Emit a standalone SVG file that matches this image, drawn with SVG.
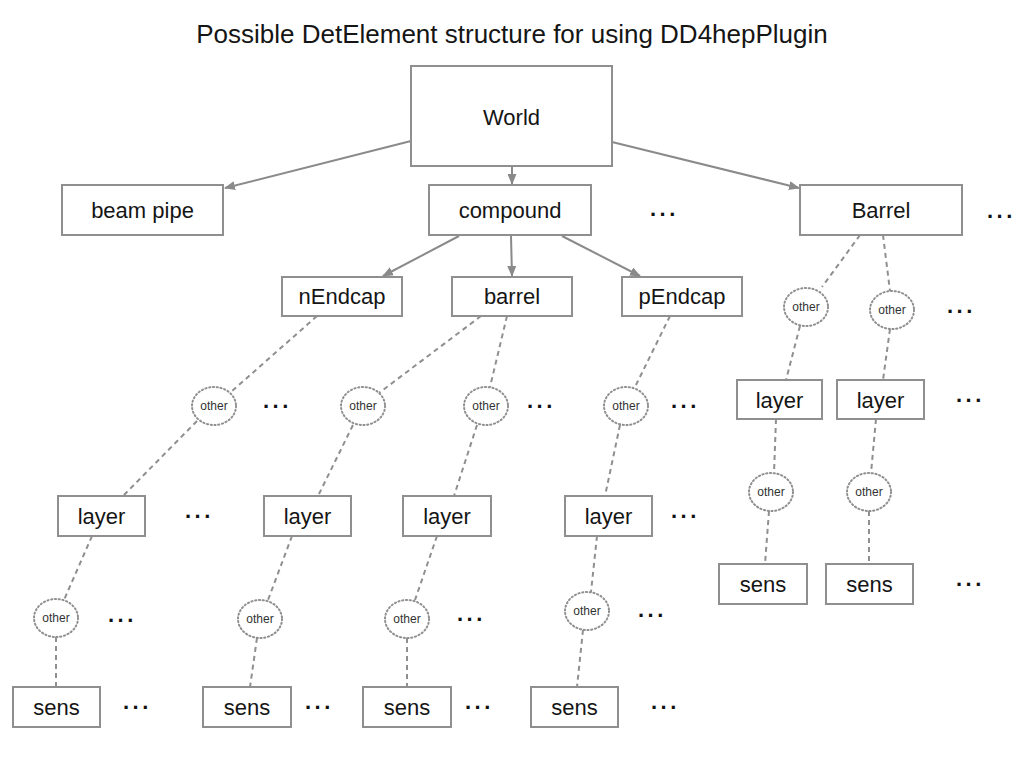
<svg xmlns="http://www.w3.org/2000/svg" width="1024" height="768" viewBox="0 0 1024 768">
<defs>
<style>
.box{fill:#fff;stroke:#8f8f8f;stroke-width:2}
.oth{fill:#fff;stroke:#8f8f8f;stroke-width:2;stroke-dasharray:1.2 2.6;stroke-linecap:round}
.t{font-family:"Liberation Sans",Arial,sans-serif;font-size:22px;fill:#151515;text-anchor:middle}
.o{font-family:"Liberation Sans",Arial,sans-serif;font-size:12px;fill:#333;text-anchor:middle}
.d{font-family:"Liberation Sans",Arial,sans-serif;font-size:22px;font-weight:bold;fill:#111;text-anchor:start;letter-spacing:3.5px}
.title{font-family:"Liberation Sans",Arial,sans-serif;font-size:26px;fill:#151515;text-anchor:middle}
.sol{stroke:#8a8a8a;stroke-width:2;fill:none;marker-end:url(#ah)}
.dash{stroke:#8f8f8f;stroke-width:2;fill:none;stroke-dasharray:5 4}
</style>
<marker id="ah" markerUnits="userSpaceOnUse" markerWidth="11" markerHeight="9" refX="10" refY="4.5" orient="auto">
<path d="M0,0 L11,4.5 L0,9 z" fill="#8a8a8a"/>
</marker>
</defs>
<rect width="1024" height="768" fill="#fff"/>
<text class="title" x="512" y="43">Possible DetElement structure for using DD4hepPlugin</text>

<g id="connectors">
<line class="sol" x1="411" y1="141" x2="225" y2="188"/>
<line class="sol" x1="512" y1="166" x2="512" y2="184"/>
<line class="sol" x1="612" y1="142" x2="799" y2="188"/>
<line class="sol" x1="459" y1="236" x2="383" y2="276"/>
<line class="sol" x1="511" y1="236" x2="512" y2="276"/>
<line class="sol" x1="562" y1="236" x2="640" y2="276"/>
<line class="dash" x1="317" y1="316" x2="231" y2="392"/>
<line class="dash" x1="197" y1="421" x2="123" y2="496"/>
<line class="dash" x1="92" y1="536" x2="64" y2="600"/>
<line class="dash" x1="56" y1="637" x2="56" y2="687"/>
<line class="dash" x1="481" y1="316" x2="379" y2="393"/>
<line class="dash" x1="507" y1="316" x2="490" y2="387"/>
<line class="dash" x1="353" y1="425" x2="318" y2="496"/>
<line class="dash" x1="477" y1="425" x2="454" y2="496"/>
<line class="dash" x1="292" y1="536" x2="268" y2="600"/>
<line class="dash" x1="257" y1="638" x2="250" y2="687"/>
<line class="dash" x1="437" y1="536" x2="415" y2="600"/>
<line class="dash" x1="407" y1="638" x2="407" y2="687"/>
<line class="dash" x1="670" y1="316" x2="635" y2="387"/>
<line class="dash" x1="620" y1="425" x2="605" y2="496"/>
<line class="dash" x1="597" y1="536" x2="591" y2="592"/>
<line class="dash" x1="583" y1="630" x2="577" y2="687"/>
<line class="dash" x1="860" y1="235" x2="822" y2="287"/>
<line class="dash" x1="883" y1="235" x2="890" y2="291"/>
<line class="dash" x1="800" y1="326" x2="786" y2="380"/>
<line class="dash" x1="890" y1="329" x2="883" y2="380"/>
<line class="dash" x1="776" y1="419" x2="774" y2="473"/>
<line class="dash" x1="769" y1="511" x2="765" y2="564"/>
<line class="dash" x1="876" y1="419" x2="871" y2="473"/>
<line class="dash" x1="869" y1="511" x2="869" y2="564"/>
</g>

<g id="world"><rect class="box" x="411" y="66" width="201" height="100"/><text class="t" x="511.5" y="125">World</text></g>
<g id="beampipe"><rect class="box" x="62" y="185" width="161" height="50"/><text class="t" x="142.5" y="218">beam pipe</text></g>
<g id="compound"><rect class="box" x="429" y="185" width="162" height="50"/><text class="t" x="510" y="218">compound</text></g>
<g id="Barrel"><rect class="box" x="800" y="185" width="162" height="50"/><text class="t" x="881" y="218">Barrel</text></g>
<g id="nEndcap"><rect class="box" x="282" y="277" width="120" height="39"/><text class="t" x="342" y="304">nEndcap</text></g>
<g id="barrel"><rect class="box" x="452" y="277" width="120" height="39"/><text class="t" x="512" y="304">barrel</text></g>
<g id="pEndcap"><rect class="box" x="622" y="277" width="120" height="39"/><text class="t" x="682" y="304">pEndcap</text></g>

<g id="layer1"><rect class="box" x="58" y="496" width="87" height="40"/><text class="t" x="101.5" y="524">layer</text></g>
<g id="layer2"><rect class="box" x="264" y="496" width="87" height="40"/><text class="t" x="307.5" y="524">layer</text></g>
<g id="layer3"><rect class="box" x="403" y="496" width="88" height="40"/><text class="t" x="447" y="524">layer</text></g>
<g id="layer4"><rect class="box" x="565" y="496" width="87" height="40"/><text class="t" x="608.5" y="524">layer</text></g>
<g id="layer5"><rect class="box" x="737" y="380" width="85" height="39"/><text class="t" x="779.5" y="408">layer</text></g>
<g id="layer6"><rect class="box" x="837" y="380" width="87" height="39"/><text class="t" x="880.5" y="408">layer</text></g>

<g id="sens1"><rect class="box" x="13" y="687" width="87" height="40"/><text class="t" x="56.5" y="715">sens</text></g>
<g id="sens2"><rect class="box" x="203" y="687" width="88" height="40"/><text class="t" x="247" y="715">sens</text></g>
<g id="sens3"><rect class="box" x="363" y="687" width="88" height="40"/><text class="t" x="407" y="715">sens</text></g>
<g id="sens4"><rect class="box" x="531" y="687" width="87" height="40"/><text class="t" x="574.5" y="715">sens</text></g>
<g id="sens5"><rect class="box" x="719" y="564" width="88" height="40"/><text class="t" x="763" y="592">sens</text></g>
<g id="sens6"><rect class="box" x="826" y="564" width="87" height="40"/><text class="t" x="869.5" y="592">sens</text></g>

<g id="other1"><ellipse class="oth" cx="214" cy="406" rx="22" ry="19"/><text class="o" x="214" y="410">other</text></g>
<g id="other2"><ellipse class="oth" cx="363" cy="406" rx="22" ry="19"/><text class="o" x="363" y="410">other</text></g>
<g id="other3"><ellipse class="oth" cx="486" cy="406" rx="22" ry="19"/><text class="o" x="486" y="410">other</text></g>
<g id="other4"><ellipse class="oth" cx="626" cy="406" rx="22" ry="19"/><text class="o" x="626" y="410">other</text></g>
<g id="other5"><ellipse class="oth" cx="806" cy="307" rx="22" ry="19"/><text class="o" x="806" y="311">other</text></g>
<g id="other6"><ellipse class="oth" cx="892" cy="310" rx="22" ry="19"/><text class="o" x="892" y="314">other</text></g>
<g id="other7"><ellipse class="oth" cx="56" cy="618" rx="22" ry="19"/><text class="o" x="56" y="622">other</text></g>
<g id="other8"><ellipse class="oth" cx="260" cy="619" rx="22" ry="19"/><text class="o" x="260" y="623">other</text></g>
<g id="other9"><ellipse class="oth" cx="407" cy="619" rx="22" ry="19"/><text class="o" x="407" y="623">other</text></g>
<g id="other10"><ellipse class="oth" cx="587" cy="611" rx="22" ry="19"/><text class="o" x="587" y="615">other</text></g>
<g id="other11"><ellipse class="oth" cx="771" cy="492" rx="22" ry="19"/><text class="o" x="771" y="496">other</text></g>
<g id="other12"><ellipse class="oth" cx="869" cy="492" rx="22" ry="19"/><text class="o" x="869" y="496">other</text></g>

<g id="ellipses">
<text class="d" x="650" y="216">...</text>
<text class="d" x="987" y="218">...</text>
<text class="d" x="263" y="408">...</text>
<text class="d" x="527" y="408">...</text>
<text class="d" x="671" y="408">...</text>
<text class="d" x="947" y="313">...</text>
<text class="d" x="185" y="518">...</text>
<text class="d" x="671" y="518">...</text>
<text class="d" x="956" y="402">...</text>
<text class="d" x="108" y="622">...</text>
<text class="d" x="457" y="621">...</text>
<text class="d" x="638" y="617">...</text>
<text class="d" x="123" y="709">...</text>
<text class="d" x="305" y="709">...</text>
<text class="d" x="465" y="709">...</text>
<text class="d" x="651" y="709">...</text>
<text class="d" x="956" y="586">...</text>
</g>
</svg>
